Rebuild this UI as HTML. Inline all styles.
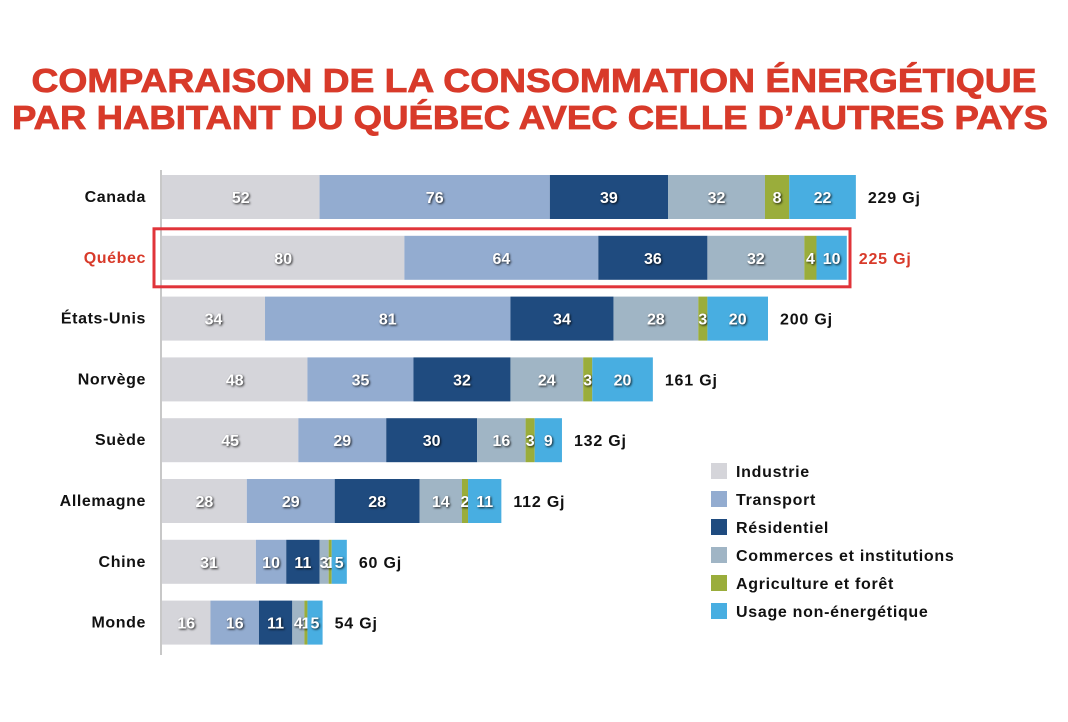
<!DOCTYPE html>
<html><head><meta charset="utf-8"><style>
body{margin:0;background:#fff;}
svg{display:block;font-family:"Liberation Sans",Arial,sans-serif;}
</style></head><body>
<svg id="c" width="1068" height="722">
<text x="534" y="92" text-anchor="middle" font-size="33" font-weight="bold" fill="#d83a2a" stroke="#d83a2a" stroke-width="0.8" textLength="1005" lengthAdjust="spacingAndGlyphs">COMPARAISON DE LA CONSOMMATION ÉNERGÉTIQUE</text>
<text x="530" y="129" text-anchor="middle" font-size="33" font-weight="bold" fill="#d83a2a" stroke="#d83a2a" stroke-width="0.8" textLength="1036" lengthAdjust="spacingAndGlyphs">PAR HABITANT DU QUÉBEC AVEC CELLE D’AUTRES PAYS</text>
<line x1="161" y1="170" x2="161" y2="655" stroke="#c8c8c8" stroke-width="2"/>
</svg>
<script>
const countries=["Canada","Québec","États-Unis","Norvège","Suède","Allemagne","Chine","Monde"];
const totals=[229,225,200,161,132,112,60,54];
const industrie=[52,80,34,48,45,28,31,16];
const transport=[76,64,81,35,29,29,10,16];
const residentiel=[39,36,34,32,30,28,11,11];
const commerces=[32,32,28,24,16,14,3,4];
const agriculture=[8,4,3,3,3,2,1,1];
const usage=[22,10,20,20,9,11,5,5];
const categories=["Industrie","Transport","Résidentiel","Commerces et institutions","Agriculture et forêt","Usage non-énergétique"];
const colors=["#d5d5da","#93acd0","#1f4b7f","#a0b5c5","#9aad3b","#48aee1"];
const series=[industrie,transport,residentiel,commerces,agriculture,usage];
const svg=document.getElementById('c');
const NS="http://www.w3.org/2000/svg";
const x0=162, k=3.03, y0=175, pitch=60.8, bh=44;
const xs=v=>x0+v*k;
const yb=i=>y0+i*pitch;
function mk(t,a){const e=document.createElementNS(NS,t);for(const n in a)e.setAttribute(n,a[n]);svg.appendChild(e);return e;}
countries.forEach((c,i)=>{
  const y=yb(i);const red=i===1;
  const lab=mk('text',{x:146,y:y+bh/2+5,'text-anchor':'end','font-size':16,'font-weight':'bold','letter-spacing':0.6,fill:red?'#d83a2a':'#111'});
  lab.textContent=c;
  
  
  let cum=0;
  series.forEach((s,j)=>{
    const v=s[i];
    const r=mk('rect',{x:xs(cum),y:y,width:v*k,height:bh,fill:colors[j]});
    
    
    const t=mk('text',{x:xs(cum+v/2),y:y+bh/2+6,'text-anchor':'middle','font-size':16,'font-weight':'bold',fill:'#fff',style:'text-shadow:1px 1px 2px rgba(0,0,0,0.85)'});
    t.textContent=v;
    
    
    cum+=v;
  });
  const tt=mk('text',{x:xs(cum)+12,y:y+bh/2+6,'font-size':16,'font-weight':'bold','letter-spacing':0.8,fill:red?'#d83a2a':'#111'});
  tt.textContent=totals[i]+" Gj";
  
  
  if(red){
    const b=mk('rect',{x:154,y:y-7,width:696,height:bh+14,fill:'none',stroke:'#e0343a','stroke-width':3});
    
    
  }
});
categories.forEach((c,j)=>{
  const y=463+j*28;
  const r=mk('rect',{x:711,y:y,width:16,height:16,fill:colors[j]});
  
  
  const t=mk('text',{x:736,y:y+14,'font-size':16,'font-weight':'bold','letter-spacing':0.7,fill:'#111'});
  t.textContent=c;
  
  
});
</script>
</body></html>
